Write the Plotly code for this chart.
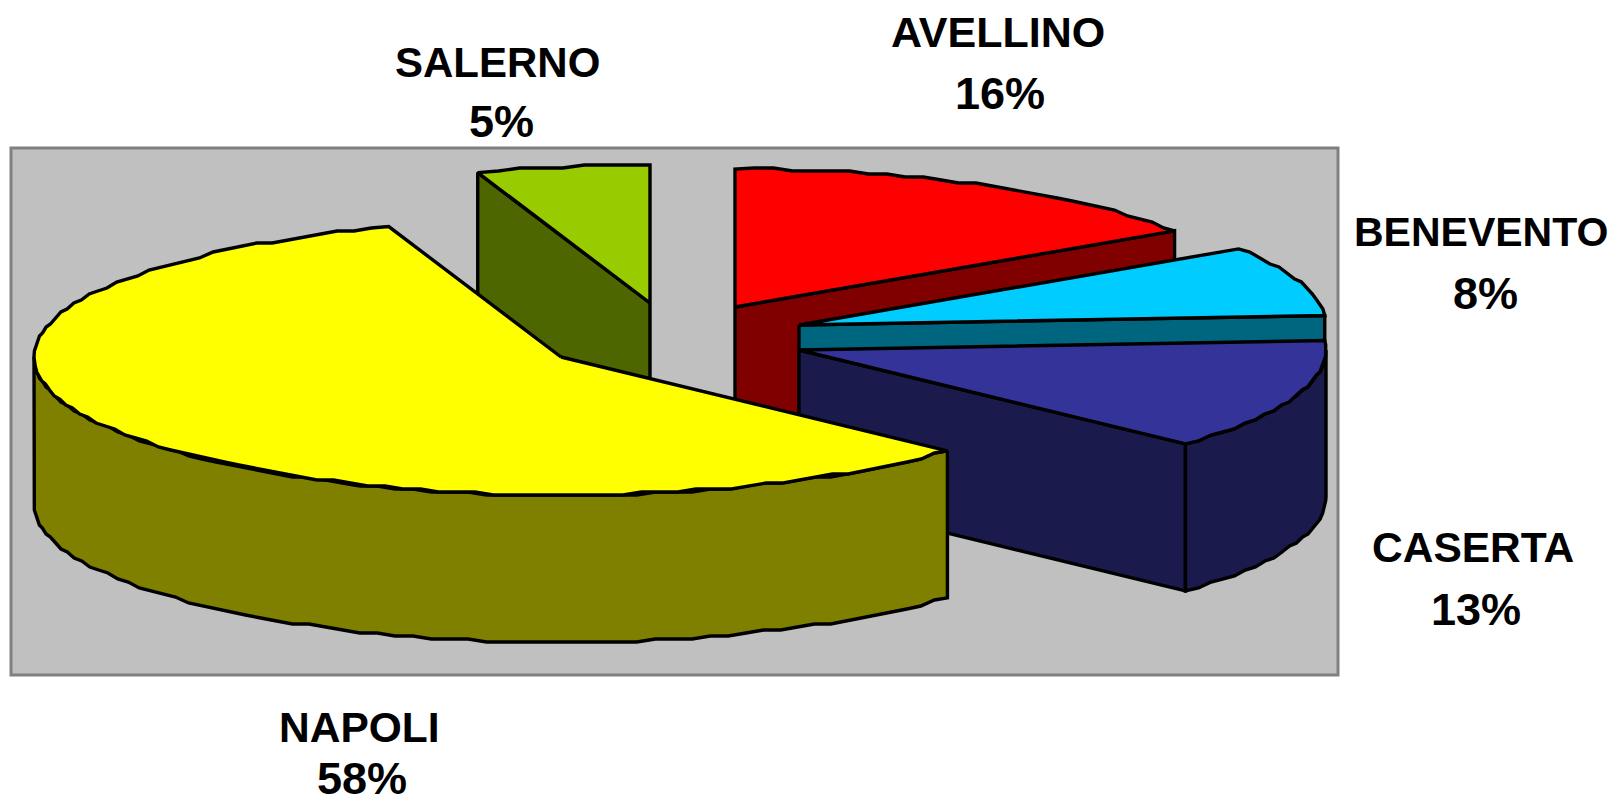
import numpy as np
import plotly.graph_objects as go

# Data
categories = ["AVELLINO", "BENEVENTO", "CASERTA", "NAPOLI", "SALERNO"]
percent_values = [15.7, 8.2, 13.0, 57.8, 5.3]

# Styles
top_colors = ["#FF0000", "#00CCFF", "#333399", "#FFFF00", "#99CC00"]
side_colors = ["#800000", "#006680", "#1A1A4D", "#808000", "#4D6600"]
name_sizes = {"AVELLINO": 43, "BENEVENTO": 41, "CASERTA": 42.5, "NAPOLI": 42.5, "SALERNO": 42}
PCT_SIZE = 45

# Layout of the exploded 3D pie (pixel-like axis units)
W, H = 1613, 804
RX, RY, DEPTH = 527, 138, 147
centers = {
    "AVELLINO": (735, 307),
    "BENEVENTO": (799, 325),
    "CASERTA": (799, 350),
    "NAPOLI": (561, 357),
    "SALERNO": (650, 303),
}
label_pos = {
    "AVELLINO": ((998, 32), (1000, 93)),
    "BENEVENTO": ((1481, 232), (1485, 293)),
    "CASERTA": ((1473, 547), (1476, 609)),
    "NAPOLI": ((359, 727), (362, 778.5)),
    "SALERNO": ((497, 62), (501, 121)),
}
draw_order = ["SALERNO", "AVELLINO", "BENEVENTO", "CASERTA", "NAPOLI"]
LINE = 3.4
STEP = 3.0  # the reference outline is visibly stepped


def rim(cx, cy, t0, t1, dy=0.0):
    n = max(2, int(abs(t1 - t0) / np.radians(2.0)))
    t = np.linspace(t0, t1, n)
    x = cx + RX * np.sin(t)
    y = cy - RY * np.cos(t) + dy
    y[1:-1] = np.round(y[1:-1] / STEP) * STEP
    return x, y


fig = go.Figure()


def poly(x, y, color):
    x = np.append(x, x[0])
    y = np.append(y, y[0])
    fig.add_trace(go.Scatter(
        x=x, y=y, mode="lines", fill="toself", fillcolor=color,
        line=dict(color="black", width=LINE), hoverinfo="skip", showlegend=False,
    ))


total = sum(percent_values)
cum = np.cumsum([0] + percent_values) / total * 2 * np.pi
spans = {c: (cum[i], cum[i + 1]) for i, c in enumerate(categories)}

for name in draw_order:
    i = categories.index(name)
    cx, cy = centers[name]
    t0, t1 = spans[name]
    side, top = side_colors[i], top_colors[i]

    # cut faces that look towards the viewer
    if np.sin(t1) > 1e-6:
        ex, ey = cx + RX * np.sin(t1), cy - RY * np.cos(t1)
        poly(np.array([cx, ex, ex, cx]), np.array([cy, ey, ey + DEPTH, cy + DEPTH]), side)
    if np.sin(t0) < -1e-6:
        ex, ey = cx + RX * np.sin(t0), cy - RY * np.cos(t0)
        poly(np.array([cx, ex, ex, cx]), np.array([cy, ey, ey + DEPTH, cy + DEPTH]), side)

    # outer wall: only the front half of the rim is visible
    a, b = max(t0, np.pi / 2), min(t1, 3 * np.pi / 2)
    if b > a:
        xt, yt = rim(cx, cy, a, b)
        xb, yb = rim(cx, cy, a, b, DEPTH)
        poly(np.concatenate([xt, xb[::-1]]), np.concatenate([yt, yb[::-1]]), side)

    # top surface
    xr, yr = rim(cx, cy, t0, t1)
    poly(np.concatenate([[cx], xr]), np.concatenate([[cy], yr]), top)

annotations = []
for name, pct in zip(categories, percent_values):
    for text, (x, y), size in zip((name, f"{round(pct)}%"), label_pos[name], (name_sizes[name], PCT_SIZE)):
        annotations.append(dict(
            x=x, y=y, xref="x", yref="y", text=f"<b>{text}</b>", showarrow=False,
            xanchor="center", yanchor="middle",
            font=dict(family="Liberation Sans, Arial, sans-serif", size=size, color="black"),
        ))

fig.update_layout(
    width=W, height=H, autosize=False,
    margin=dict(l=0, r=0, t=0, b=0),
    paper_bgcolor="white", plot_bgcolor="white",
    xaxis=dict(range=[0, W], visible=False, fixedrange=True),
    yaxis=dict(range=[H, 0], visible=False, fixedrange=True),
    annotations=annotations,
    shapes=[dict(type="rect", layer="below", xref="x", yref="y",
                 x0=11, y0=148, x1=1338, y1=675,
                 fillcolor="#C0C0C0", line=dict(color="#808080", width=3))],
)

fig.write_html("out.html", config={"displayModeBar": False},
               post_script="document.body.style.margin='0';document.body.style.overflow='hidden';")
